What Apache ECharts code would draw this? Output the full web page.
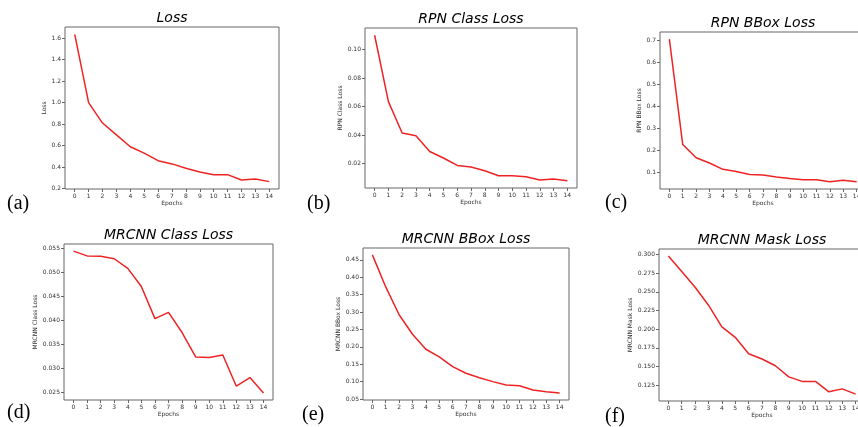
<!DOCTYPE html>
<html lang="en">
<head>
<meta charset="UTF-8">
<title>Training Losses</title>
<script src="https://cdn.jsdelivr.net/npm/echarts@6/dist/echarts.min.js"></script>
<style>
    html, body { margin: 0; padding: 0; background: #fff; }
    #main { width: 858px; height: 427px; }
</style>
</head>
<body>
<div id="main"></div>
<script>
    // x axis: epochs
    const epochs = [0, 1, 2, 3, 4, 5, 6, 7, 8, 9, 10, 11, 12, 13, 14];

    // loss values per epoch
    const lossVals = [1.635, 1.00, 0.81, 0.70, 0.59, 0.53, 0.46, 0.43, 0.39, 0.355, 0.33, 0.33, 0.28, 0.29, 0.265];
    const rpnClassVals = [0.110, 0.0635, 0.0415, 0.0396, 0.0286, 0.0240, 0.0188, 0.0177, 0.0151, 0.0116, 0.0116, 0.0109, 0.0086, 0.0093, 0.0081];
    const rpnBBoxVals = [0.705, 0.225, 0.165, 0.141, 0.112, 0.102, 0.089, 0.086, 0.077, 0.070, 0.065, 0.065, 0.055, 0.062, 0.055];
    const mrcnnClassVals = [0.0544, 0.0534, 0.0533, 0.0528, 0.0508, 0.0470, 0.0403, 0.0416, 0.0374, 0.0323, 0.0322, 0.0327, 0.0262, 0.0280, 0.0248];
    const mrcnnBBoxVals = [0.464, 0.372, 0.292, 0.236, 0.193, 0.171, 0.143, 0.124, 0.111, 0.100, 0.090, 0.088, 0.076, 0.071, 0.067];
    const mrcnnMaskVals = [0.298, 0.277, 0.256, 0.232, 0.203, 0.189, 0.167, 0.160, 0.151, 0.136, 0.130, 0.130, 0.116, 0.120, 0.113];

    // y tick labels
    const lossTicks = ['0.2', '0.4', '0.6', '0.8', '1.0', '1.2', '1.4', '1.6'];
    const rpnClassTicks = ['0.02', '0.04', '0.06', '0.08', '0.10'];
    const rpnBBoxTicks = ['0.1', '0.2', '0.3', '0.4', '0.5', '0.6', '0.7'];
    const mrcnnClassTicks = ['0.025', '0.030', '0.035', '0.040', '0.045', '0.050', '0.055'];
    const mrcnnBBoxTicks = ['0.05', '0.10', '0.15', '0.20', '0.25', '0.30', '0.35', '0.40', '0.45'];
    const mrcnnMaskTicks = ['0.125', '0.150', '0.175', '0.200', '0.225', '0.250', '0.275', '0.300'];

    // panel layout: grid box, y-name gap, sub-figure label position
    const panels = [
        { title: 'Loss', yName: 'Loss', vals: lossVals, ticks: lossTicks, box: [65, 27, 214, 162], nameGap: 16, tag: '(a)', tagPos: [7, 204] },
        { title: 'RPN Class Loss', yName: 'RPN Class Loss', vals: rpnClassVals, ticks: rpnClassTicks, box: [365, 28, 212, 160], nameGap: 20, tag: '(b)', tagPos: [307, 204] },
        { title: 'RPN BBox Loss', yName: 'RPN BBox Loss', vals: rpnBBoxVals, ticks: rpnBBoxTicks, box: [660, 32, 206, 157], nameGap: 16, tag: '(c)', tagPos: [605, 203] },
        { title: 'MRCNN Class Loss', yName: 'MRCNN Class Loss', vals: mrcnnClassVals, ticks: mrcnnClassTicks, box: [64, 244, 209, 156], nameGap: 23, tag: '(d)', tagPos: [7, 413] },
        { title: 'MRCNN BBox Loss', yName: 'MRCNN BBox Loss', vals: mrcnnBBoxVals, ticks: mrcnnBBoxTicks, box: [363, 248, 206, 152], nameGap: 20, tag: '(e)', tagPos: [302, 415] },
        { title: 'MRCNN Mask Loss', yName: 'MRCNN Mask Loss', vals: mrcnnMaskVals, ticks: mrcnnMaskTicks, box: [659, 249, 206, 152], nameGap: 25, tag: '(f)', tagPos: [605, 417] }
    ];

    const font = 'DejaVu Sans';
    const frameColor = '#666';
    const textColor = '#333';

    let grids = [], xAxes = [], yAxes = [], series = [], graphics = [];

    panels.forEach(function (p, i) {
        let lo = Math.min.apply(null, p.vals);
        let hi = Math.max.apply(null, p.vals);
        let pad = (hi - lo) * 0.05; // matplotlib default margin
        let tickNums = p.ticks.map(Number);
        let labelOf = {};
        p.ticks.forEach(function (t) { labelOf[Number(t)] = t; });

        // the right-hand panels run past the page edge, so no bounds clamping
        grids.push({
            left: p.box[0], top: p.box[1], width: p.box[2], height: p.box[3],
            containLabel: false, outerBoundsMode: 'none',
            show: true, borderColor: frameColor, borderWidth: 1, backgroundColor: '#fff'
        });

        xAxes.push({
            type: 'value', gridIndex: i, min: -0.7, max: 14.7, position: 'bottom',
            name: 'Epochs', nameLocation: 'middle', nameGap: 11,
            nameTextStyle: { fontFamily: font, fontSize: 6, color: textColor },
            axisLine: { show: false, onZero: false },
            axisTick: { show: true, inside: false, length: 3, customValues: epochs, lineStyle: { color: frameColor } },
            axisLabel: { customValues: epochs, fontFamily: font, fontSize: 6, color: textColor, margin: 4 },
            splitLine: { show: false }
        });

        yAxes.push({
            type: 'value', gridIndex: i, min: lo - pad, max: hi + pad, position: 'left',
            name: p.yName, nameLocation: 'middle', nameGap: p.nameGap,
            nameTextStyle: { fontFamily: font, fontSize: 6, color: textColor },
            axisLine: { show: false, onZero: false },
            axisTick: { show: true, inside: false, length: 3, customValues: tickNums, lineStyle: { color: frameColor } },
            axisLabel: {
                customValues: tickNums, fontFamily: font, fontSize: 6, color: textColor, margin: 4,
                formatter: function (v) { return labelOf[v] !== undefined ? labelOf[v] : ''; }
            },
            splitLine: { show: false }
        });

        series.push({
            type: 'line', xAxisIndex: i, yAxisIndex: i,
            data: epochs.map(function (e, k) { return [e, p.vals[k]]; }),
            showSymbol: false, silent: true,
            lineStyle: { color: '#ee2424', width: 1.5 }
        });

        // title above each plot
        graphics.push({
            type: 'text', x: p.box[0] + p.box[2] / 2, y: p.box[1] - 8.5,
            style: {
                text: p.title, fill: '#000',
                font: 'italic 14px "DejaVu Sans"', textAlign: 'center', textVerticalAlign: 'middle'
            }
        });

        // sub-figure tag (a)...(f)
        graphics.push({
            type: 'text', x: p.tagPos[0], y: p.tagPos[1],
            style: {
                text: p.tag, fill: '#000',
                font: '20px "Liberation Serif"', textAlign: 'left', textVerticalAlign: 'middle'
            }
        });
    });

    let myChart = echarts.init(document.getElementById('main'));
    myChart.setOption({
        animation: false,
        grid: grids,
        xAxis: xAxes,
        yAxis: yAxes,
        series: series,
        graphic: graphics
    });
</script>
</body>
</html>
